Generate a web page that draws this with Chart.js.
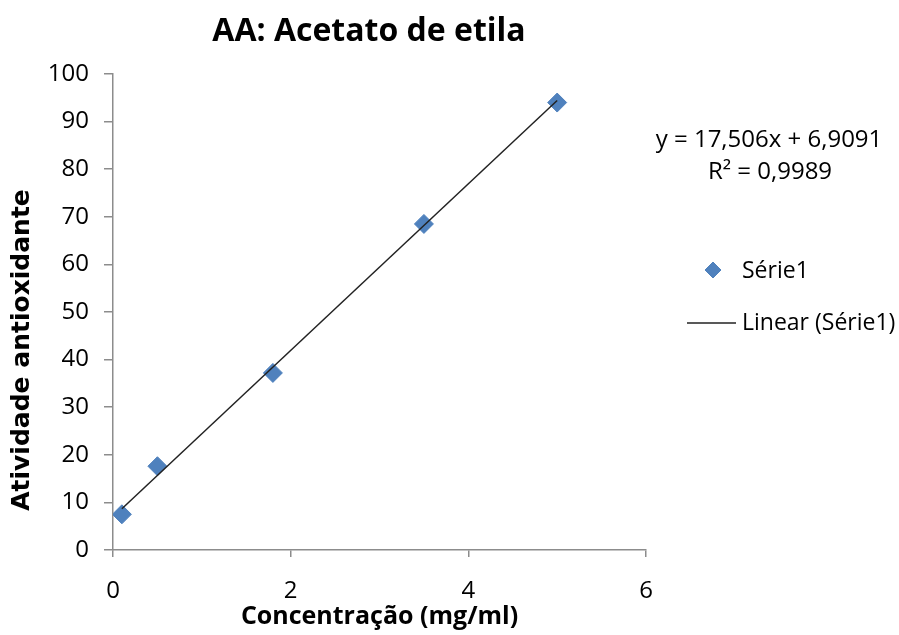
<!DOCTYPE html>
<html>
<head>
<meta charset="utf-8">
<title>AA: Acetato de etila</title>
<script src="https://cdn.jsdelivr.net/npm/chart.js@4.4.1/dist/chart.umd.min.js"></script>
<style>
    html, body { margin: 0; padding: 0; background: #ffffff; }
    #wrap { width: 899px; height: 635px; }
</style>
</head>
<body>
<div id="wrap"><canvas id="grafico" width="899" height="635"></canvas></div>
<script>
// dados
const concentracoes = [0.1, 0.5, 1.8, 3.5, 5.0];
const atividades = [7.5, 17.6, 37.2, 68.5, 94.0];
const xTicks = [0, 2, 4, 6];
const yTicks = [0, 10, 20, 30, 40, 50, 60, 70, 80, 90, 100];

// linha de tendência (equação mostrada no gráfico)
const inclinacao = 17.506;
const intercepto = 6.9091;
const textoEquacao = "y = 17,506x + 6,9091";
const textoR2 = "R² = 0,9989";

const titulo = "AA: Acetato de etila";
const tituloX = "Concentração (mg/ml)";
const tituloY = "Atividade antioxidante";
const nomeSerie = "Série1";
const nomeTendencia = "Linear (Série1)";

const AZUL = "#4F81BD";
const CINZA_EIXO = "#8c8c8c";
const FONTE = "'Open Sans', 'Noto Sans', sans-serif";

Chart.defaults.font.family = FONTE;
Chart.defaults.color = "#000";

const pontos = concentracoes.map((x, i) => ({ x: x, y: atividades[i] }));
const xIni = concentracoes[0];
const xFim = concentracoes[concentracoes.length - 1];
const tendencia = [
    { x: xIni, y: inclinacao * xIni + intercepto },
    { x: xFim, y: inclinacao * xFim + intercepto },
];

// textos fora da área do gráfico: título, título do eixo Y, equação e legenda
const textosPlugin = {
    id: "textosPlugin",
    afterDraw(chart) {
        const { ctx } = chart;
        ctx.save();
        ctx.fillStyle = "#000";
        ctx.textBaseline = "middle";

        // título
        ctx.font = "bold 32px " + FONTE;
        ctx.textAlign = "center";
        ctx.fillText(titulo, 369, 32);

        // título do eixo Y
        ctx.save();
        ctx.translate(22, 350);
        ctx.rotate(-Math.PI / 2);
        ctx.font = "bold 25px 'DejaVu Sans', sans-serif";
        ctx.fillText(tituloY, 0, 0);
        ctx.restore();

        // equação e R²
        ctx.font = "24px " + FONTE;
        ctx.fillText(textoEquacao, 769, 140);
        ctx.fillText(textoR2, 770, 172);

        // legenda
        ctx.textAlign = "left";
        ctx.font = "23px " + FONTE;
        ctx.fillStyle = AZUL;
        ctx.strokeStyle = AZUL;
        ctx.lineWidth = 1;
        Chart.helpers.drawPoint(ctx, { pointStyle: "rectRot", radius: 8, borderWidth: 1 }, 713, 270);
        ctx.fillStyle = "#000";
        ctx.fillText(nomeSerie, 742, 271);

        ctx.strokeStyle = "#222";
        ctx.lineWidth = 1.5;
        ctx.beginPath();
        ctx.moveTo(687, 323);
        ctx.lineTo(736, 323);
        ctx.stroke();
        ctx.fillText(nomeTendencia, 742, 323);

        ctx.restore();
    },
};

new Chart(document.getElementById("grafico").getContext("2d"), {
    type: "scatter",
    data: {
        datasets: [
            {
                label: nomeTendencia,
                data: tendencia,
                showLine: true,
                borderColor: "#222",
                borderWidth: 1.5,
                pointRadius: 0,
                fill: false,
                order: 0,
            },
            {
                label: nomeSerie,
                data: pontos,
                pointStyle: "rectRot",
                pointRadius: 9.5,
                pointHoverRadius: 9.5,
                backgroundColor: AZUL,
                borderColor: AZUL,
                borderWidth: 1,
                order: 1,
            },
        ],
    },
    options: {
        responsive: false,
        animation: false,
        events: [],
        layout: {
            padding: { top: 74, right: 253, bottom: 0, left: 0 },
        },
        plugins: {
            legend: { display: false },
            tooltip: { enabled: false },
        },
        scales: {
            x: {
                type: "linear",
                min: xTicks[0],
                max: xTicks[xTicks.length - 1],
                afterBuildTicks: (scale) => {
                    scale.ticks = xTicks.map((v) => ({ value: v }));
                },
                afterFit: (scale) => {
                    scale.height = 85;
                },
                ticks: {
                    padding: 20,
                    font: { size: 24 },
                    color: "#000",
                },
                grid: {
                    drawOnChartArea: false,
                    drawTicks: true,
                    tickLength: 7,
                    color: CINZA_EIXO,
                    lineWidth: 1.5,
                },
                border: { display: true, color: CINZA_EIXO, width: 1.5 },
                title: {
                    display: true,
                    text: tituloX,
                    font: { size: 25, weight: "bold" },
                    color: "#000",
                    padding: { top: 0, bottom: 3 },
                },
            },
            y: {
                type: "linear",
                min: yTicks[0],
                max: yTicks[yTicks.length - 1],
                afterBuildTicks: (scale) => {
                    scale.ticks = yTicks.map((v) => ({ value: v }));
                },
                afterFit: (scale) => {
                    scale.width = 113;
                },
                ticks: {
                    padding: 15,
                    font: { size: 24 },
                    color: "#000",
                },
                grid: {
                    drawOnChartArea: false,
                    drawTicks: true,
                    tickLength: 9,
                    color: CINZA_EIXO,
                    lineWidth: 1.5,
                },
                border: { display: true, color: CINZA_EIXO, width: 1.5 },
            },
        },
    },
    plugins: [textosPlugin],
});
</script>
</body>
</html>
